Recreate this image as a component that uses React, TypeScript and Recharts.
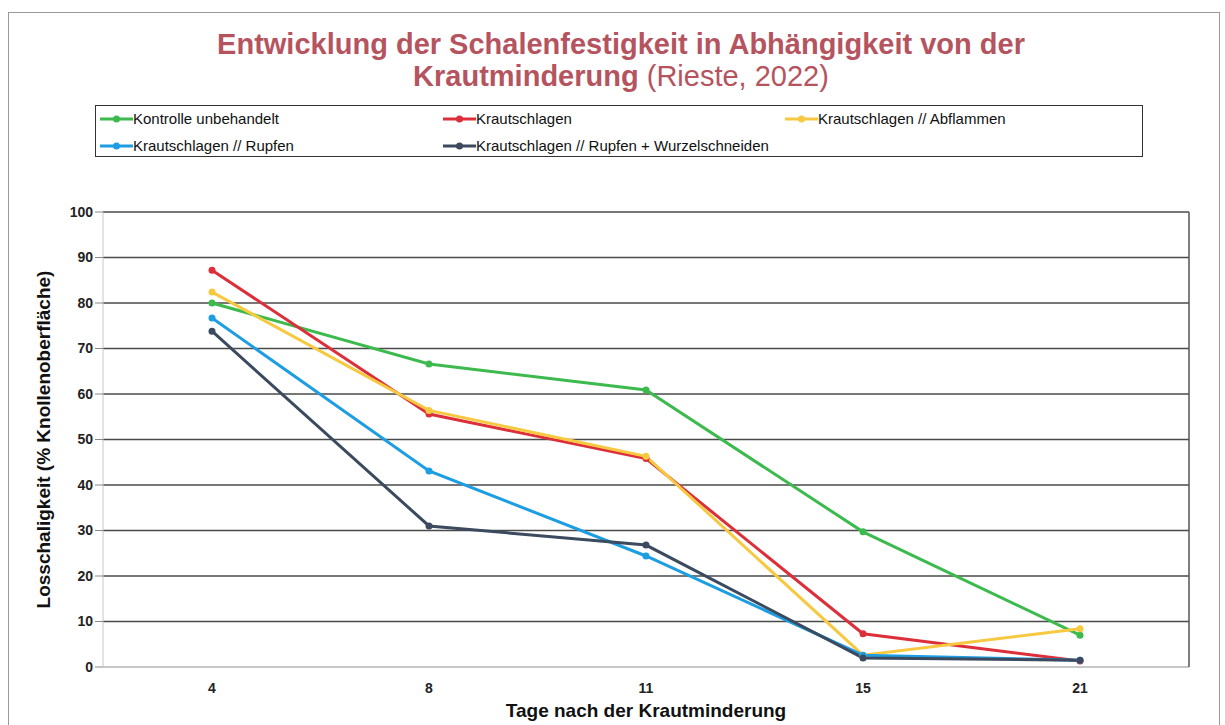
import React from 'react';
import {
  LineChart,
  Line,
  XAxis,
  YAxis,
  CartesianGrid,
} from 'recharts';

// Tage nach der Krautminderung
const tage = ['4', '8', '11', '15', '21'];

// Losschaligkeit (% Knollenoberfläche)
const kontrolle = [80.0, 66.6, 60.9, 29.7, 7.0];
const krautschlagen = [87.2, 55.6, 45.8, 7.3, 1.3];
const abflammen = [82.4, 56.4, 46.3, 2.6, 8.4];
const rupfen = [76.7, 43.1, 24.4, 2.6, 1.5];
const wurzelschneiden = [73.8, 31.0, 26.8, 2.0, 1.5];

const yTicks = [0, 10, 20, 30, 40, 50, 60, 70, 80, 90, 100];

const series = [
  { key: 'kontrolle', name: 'Kontrolle unbehandelt', color: '#3dba4e', values: kontrolle },
  { key: 'krautschlagen', name: 'Krautschlagen', color: '#dc2f3a', values: krautschlagen },
  { key: 'abflammen', name: 'Krautschlagen // Abflammen', color: '#f7c940', values: abflammen },
  { key: 'rupfen', name: 'Krautschlagen // Rupfen', color: '#1d9de2', values: rupfen },
  { key: 'wurzel', name: 'Krautschlagen // Rupfen + Wurzelschneiden', color: '#3b4a5e', values: wurzelschneiden },
];

const data = tage.map((t, i) => {
  const row: Record<string, string | number> = { tag: t };
  series.forEach((s) => {
    row[s.key] = s.values[i];
  });
  return row;
});

const font = "'Liberation Sans Narrow', 'Liberation Sans', Arial, sans-serif";

// legend columns as in the original (3 per row)
const legendPos = [
  { left: 100, top: 111 },
  { left: 443, top: 111 },
  { left: 785, top: 111 },
  { left: 100, top: 138 },
  { left: 443, top: 138 },
];

const App: React.FC = () => {
  return (
    <div style={{ position: 'absolute', left: 0, top: 0, width: 1225, height: 725, background: '#fff', fontFamily: font, overflow: 'hidden' }}>
      <div style={{ position: 'absolute', left: 8, top: 12, width: 1210, height: 740, border: '1px solid #9a9a9a' }} />
      <div
        style={{
          position: 'absolute',
          left: 0,
          width: 1242,
          top: 28,
          textAlign: 'center',
          color: '#b5545f',
          fontSize: 29,
          fontWeight: 'bold',
          lineHeight: '32px',
        }}
      >
        Entwicklung der Schalenfestigkeit in Abhängigkeit von der
        <br />
        Krautminderung <span style={{ fontWeight: 'normal' }}>(Rieste, 2022)</span>
      </div>

      <div style={{ position: 'absolute', left: 95, top: 105, width: 1046, height: 50, border: '1.5px solid #333' }} />
      {series.map((s, i) => (
        <div
          key={s.key}
          style={{ position: 'absolute', left: legendPos[i].left, top: legendPos[i].top, display: 'flex', alignItems: 'center', fontSize: 15, color: '#111', lineHeight: '16px' }}
        >
          <svg width={33} height={10}>
            <line x1={0} y1={5} x2={33} y2={5} stroke={s.color} strokeWidth={3} />
            <circle cx={16.5} cy={5} r={3.5} fill={s.color} />
          </svg>
          <span>{s.name}</span>
        </div>
      ))}

      <div style={{ position: 'absolute', left: 0, top: 0 }}>
        <LineChart
          width={1225}
          height={725}
          data={data}
          margin={{ top: 212, right: 35, left: 33, bottom: 28 }}
        >
          <CartesianGrid vertical={false} stroke="#4a4a4a" strokeWidth={1.5} />
          <XAxis
            dataKey="tag"
            padding={{ left: 109, right: 109 }}
            axisLine={{ stroke: '#c8c8c8', strokeWidth: 2 }}
            tickLine={false}
            height={30}
            tick={{ fontSize: 14, fontWeight: 'bold', fill: '#222', fontFamily: font }}
            dy={8}
            label={{
              value: 'Tage nach der Krautminderung',
              position: 'insideBottom',
              offset: -20,
              style: { fontSize: 19, fontWeight: 'bold', fill: '#111', fontFamily: font },
            }}
          />
          <YAxis
            domain={[0, 100]}
            ticks={yTicks}
            width={70}
            axisLine={{ stroke: '#c8c8c8' }}
            tickLine={{ stroke: '#888' }}
            tickSize={8}
            interval={0}
            tick={{ fontSize: 14, fontWeight: 'bold', fill: '#222', fontFamily: font }}
            label={{
              value: 'Losschaligkeit (% Knollenoberfläche)',
              angle: -90,
              position: 'insideLeft',
              offset: 10,
              style: { fontSize: 19, fontWeight: 'bold', fill: '#111', textAnchor: 'middle', fontFamily: font },
            }}
          />
          <YAxis
            yAxisId="right"
            orientation="right"
            width={1}
            domain={[0, 100]}
            tick={false}
            tickLine={false}
            axisLine={{ stroke: '#555', strokeWidth: 1.5 }}
          />
          {series.map((s) => (
            <Line
              key={s.key}
              type="linear"
              dataKey={s.key}
              name={s.name}
              stroke={s.color}
              strokeWidth={3}
              dot={{ r: 3.5, fill: s.color, stroke: s.color, strokeWidth: 0 }}
              isAnimationActive={false}
            />
          ))}
        </LineChart>
      </div>
    </div>
  );
};

export default App;
